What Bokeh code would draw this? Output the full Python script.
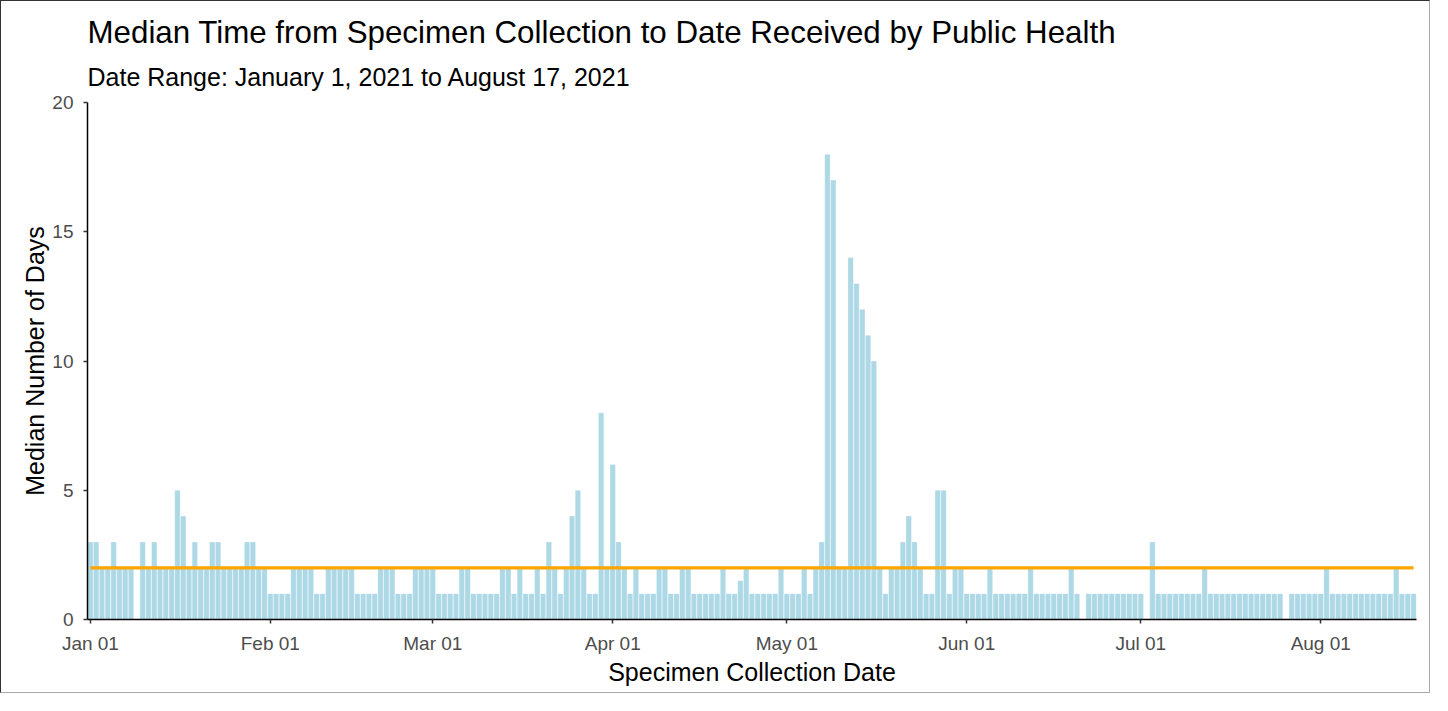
import pandas as pd
from bokeh.plotting import figure
from bokeh.models import Title, FixedTicker, ColumnDataSource, Range1d
from bokeh.embed import file_html
from bokeh.resources import INLINE

# ---------------- data ----------------
title_text = "Median Time from Specimen Collection to Date Received by Public Health"
subtitle_text = "Date Range: January 1, 2021 to August 17, 2021"
x_label = "Specimen Collection Date"
y_label = "Median Number of Days"

start_date = "2021-01-01"
end_date = "2021-08-17"

# median days per collection date (None = no specimens that day)
median_days = [
    3, 3, 2, 2, 3, 2, 2, 2, None, 3,          # Jan 01-10
    2, 3, 2, 2, 2, 5, 4, 2, 3, 2,             # Jan 11-20
    2, 3, 3, 2, 2, 2, 2, 3, 3, 2,             # Jan 21-30
    2, 1, 1, 1, 1, 2, 2, 2, 2, 1,             # Jan 31-Feb 09
    1, 2, 2, 2, 2, 2, 1, 1, 1, 1,             # Feb 10-19
    2, 2, 2, 1, 1, 1, 2, 2, 2, 2,             # Feb 20-Mar 01
    1, 1, 1, 1, 2, 2, 1, 1, 1, 1,             # Mar 02-11
    1, 2, 2, 1, 2, 1, 1, 2, 1, 3,             # Mar 12-21
    2, 1, 2, 4, 5, 2, 1, 1, 8, 2,             # Mar 22-31
    6, 3, 2, 1, 2, 1, 1, 1, 2, 2,             # Apr 01-10
    1, 1, 2, 2, 1, 1, 1, 1, 1, 2,             # Apr 11-20
    1, 1, 1.5, 2, 1, 1, 1, 1, 1, 2,           # Apr 21-30
    1, 1, 1, 2, 1, 2, 3, 18, 17, 2,           # May 01-10
    2, 14, 13, 12, 11, 10, 2, 1, 2, 2,        # May 11-20
    3, 4, 3, 2, 1, 1, 5, 5, 1, 2,             # May 21-30
    2, 1, 1, 1, 1, 2, 1, 1, 1, 1,             # May 31-Jun 09
    1, 1, 2, 1, 1, 1, 1, 1, 1, 2,             # Jun 10-19
    1, None, 1, 1, 1, 1, 1, 1, 1, 1,          # Jun 20-29
    1, 1, None, 3, 1, 1, 1, 1, 1, 1,          # Jun 30-Jul 09
    1, 1, 2, 1, 1, 1, 1, 1, 1, 1,             # Jul 10-19
    1, 1, 1, 1, 1, 1, None, 1, 1, 1,          # Jul 20-29
    1, 1, 1, 2, 1, 1, 1, 1, 1, 1,             # Jul 30-Aug 08
    1, 1, 1, 1, 1, 2, 1, 1, 1,                # Aug 09-17
]
overall_median = 2

tick_dates = ["2021-01-01", "2021-02-01", "2021-03-01", "2021-04-01",
              "2021-05-01", "2021-06-01", "2021-07-01", "2021-08-01"]
tick_labels = ["Jan 01", "Feb 01", "Mar 01", "Apr 01",
               "May 01", "Jun 01", "Jul 01", "Aug 01"]
y_ticks = [0, 5, 10, 15, 20]
y_max = 20

# ---------------- build ----------------
dates = pd.date_range(start_date, end_date, freq="D")
vals = median_days[:len(dates)]
day_index = [(d - dates[0]).days for d in dates]
bar_x = [d for d, v in zip(day_index, vals) if v is not None]
bar_top = [v for v in vals if v is not None]
src = ColumnDataSource(dict(x=bar_x, top=bar_top))

t0 = pd.Timestamp(start_date)
tick_pos = [(pd.Timestamp(t) - t0).days for t in tick_dates]

FONT = "Liberation Sans"

p = figure(width=1430, height=693, output_backend="svg", toolbar_location=None,
           x_range=Range1d(day_index[0] - 0.5, day_index[-1] + 0.5),
           y_range=Range1d(0, y_max),
           min_border_left=86, min_border_right=15,
           min_border_top=101, min_border_bottom=75,
           background_fill_color="white", border_fill_color="white")
p.outline_line_color = None
p.xgrid.grid_line_color = None
p.ygrid.grid_line_color = None

p.vbar(x="x", top="top", width=0.94, source=src,
       fill_color="#ADD8E6", line_color="white", line_width=0.35)
p.line(x=[day_index[0], day_index[-1]], y=[overall_median, overall_median],
       line_color="#FFA500", line_width=3.2)

# titles (added inner first)
p.add_layout(Title(text=subtitle_text, text_font=FONT, text_font_size="25px",
                   text_font_style="normal", text_color="black",
                   align="left", offset=0, standoff=23), "above")
p.add_layout(Title(text=title_text, text_font=FONT, text_font_size="31.3px",
                   text_font_style="normal", text_color="black",
                   align="left", offset=0, standoff=0), "above")

for ax in (p.xaxis[0], p.yaxis[0]):
    ax.axis_line_color = "black"
    ax.axis_line_width = 1.5
    ax.major_tick_line_color = "#333333"
    ax.major_tick_line_width = 1.5
    ax.major_tick_in = 0
    ax.major_tick_out = 4
    ax.minor_tick_line_color = None
    ax.major_label_text_font = FONT
    ax.major_label_text_font_size = "19px"
    ax.major_label_text_color = "#4D4D4D"
    ax.axis_label_text_font = FONT
    ax.axis_label_text_font_size = "25px"
    ax.axis_label_text_font_style = "normal"
    ax.axis_label_text_color = "black"

p.xaxis.ticker = FixedTicker(ticks=tick_pos)
p.xaxis.major_label_overrides = {tp: lab for tp, lab in zip(tick_pos, tick_labels)}
p.xaxis.axis_label = x_label
p.xaxis.major_label_standoff = 9
p.xaxis.axis_label_standoff = 1

p.yaxis.ticker = FixedTicker(ticks=y_ticks)
p.yaxis.axis_label = y_label
p.yaxis.major_label_standoff = 10
p.yaxis.axis_label_standoff = 0

p.styles = {"border-left": "1px solid #333333", "border-top": "1px solid #333333",
            "border-right": "1px solid #aaaaaa", "border-bottom": "1px solid #aaaaaa"}

open("out.html", "w").write(file_html(p, INLINE))
